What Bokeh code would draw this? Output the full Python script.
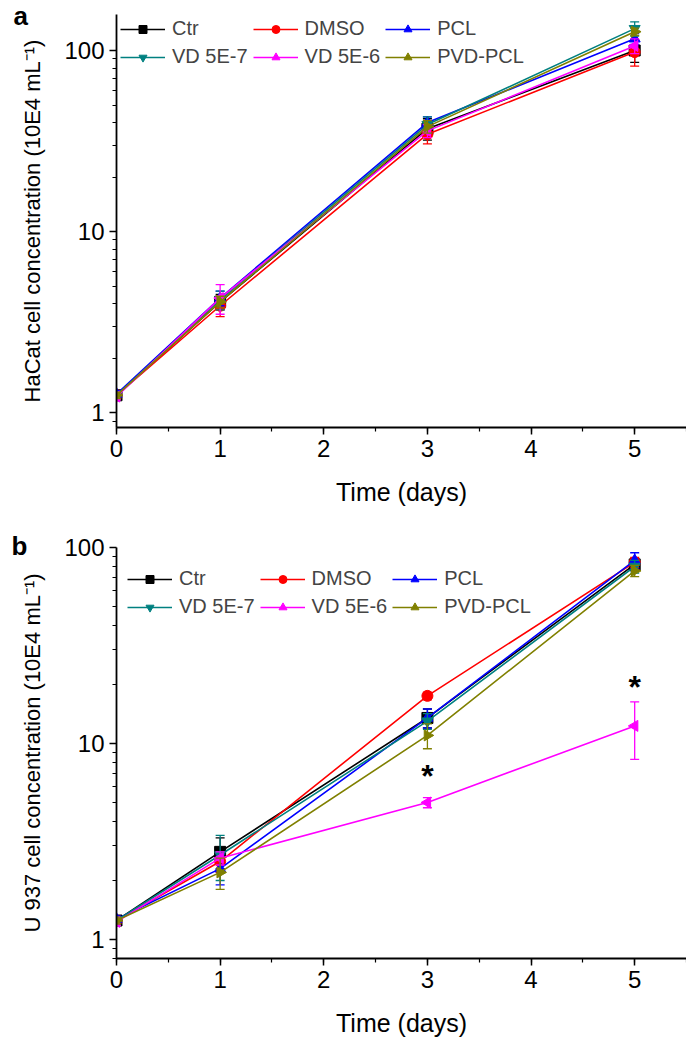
import numpy as np
from bokeh.plotting import figure
from bokeh.layouts import column
from bokeh.models import (Legend, LegendItem, Title, FixedTicker, SingleIntervalTicker,
                          PrintfTickFormatter, Range1d, ColumnDataSource)
from bokeh.core.properties import value
from bokeh.embed import file_html
from bokeh.resources import INLINE

FONT = "Liberation Sans"

days = [0, 1, 3, 5]
series = ["Ctr", "DMSO", "PCL", "VD 5E-7", "VD 5E-6", "PVD-PCL"]
colors = ["#000000", "#ff0000", "#0000ff", "#008080", "#ff00ff", "#808000"]
markers = ["square", "circle", "triangle", "inverted_triangle", "triangle", "triangle"]
angles = [0, 0, 0, 0, np.pi / 2, -np.pi / 2]

# Panel a: HaCat
hacat_vals = [
    [1.25, 4.1, 37.0, 100.0],   # Ctr
    [1.25, 3.9, 34.5, 98.0],    # DMSO
    [1.27, 4.3, 40.0, 116.0],   # PCL
    [1.25, 4.2, 39.0, 132.0],   # VD 5E-7
    [1.23, 4.3, 36.0, 106.0],   # VD 5E-6
    [1.25, 4.1, 38.0, 127.0],   # PVD-PCL
]
hacat_err = [
    [0.05, 0.4, 5.0, 14.0],
    [0.05, 0.5, 4.0, 16.0],
    [0.05, 0.4, 3.0, 8.0],
    [0.05, 0.5, 4.0, 12.0],
    [0.05, 0.8, 3.0, 10.0],
    [0.05, 0.3, 3.0, 6.0],
]

# Panel b: U 937
u937_vals = [
    [1.25, 2.8, 13.5, 82.0],
    [1.25, 2.5, 17.5, 84.0],
    [1.27, 2.3, 13.5, 86.0],
    [1.25, 2.7, 13.0, 80.0],
    [1.23, 2.6, 5.0, 12.3],
    [1.25, 2.2, 11.0, 76.0],
]
u937_err = [
    [0.05, 0.5, 1.5, 6.0],
    [0.05, 0.3, 0.8, 5.0],
    [0.05, 0.4, 1.5, 8.0],
    [0.05, 0.7, 1.2, 6.0],
    [0.05, 0.2, 0.3, 4.0],
    [0.05, 0.4, 1.6, 5.0],
]

star_x = [3, 5]
star_y = [6.8, 19.5]


def make_panel(vals, errs, ylabel, ymin, ymax, border_top, frame_h,
               border_bottom, legend_loc, tag, tag_offset, tag_standoff, stars=False):
    p = figure(output_backend="svg", toolbar_location=None, y_axis_type="log",
               frame_width=570, frame_height=frame_h,
               min_border_left=116, min_border_right=0,
               min_border_top=border_top, min_border_bottom=border_bottom,
               x_range=Range1d(0, 5.5), y_range=Range1d(ymin, ymax))
    p.outline_line_color = None
    p.grid.visible = False
    p.background_fill_color = "white"

    items = []
    for i, name in enumerate(series):
        src = ColumnDataSource(dict(
            x=days, y=vals[i],
            lo=[v - e for v, e in zip(vals[i], errs[i])],
            hi=[v + e for v, e in zip(vals[i], errs[i])]))
        c = colors[i]
        p.segment(x0="x", y0="lo", x1="x", y1="hi", source=src, line_color=c, line_width=1.3)
        p.scatter(x="x", y="lo", source=src, marker="dash", size=9, line_color=c, line_width=1.3)
        p.scatter(x="x", y="hi", source=src, marker="dash", size=9, line_color=c, line_width=1.3)
        lr = p.line(x="x", y="y", source=src, line_color=c, line_width=1.6)
        sr = p.scatter(x="x", y="y", source=src, marker=markers[i], angle=angles[i],
                       size=11, fill_color=c, line_color=c)
        items.append(LegendItem(label=name, renderers=[lr, sr]))

    leg = Legend(items=items, location=legend_loc, orientation="horizontal", ncols=3,
                 glyph_width=45, glyph_height=20, label_height=20, spacing=5,
                 label_standoff=7, padding=2, margin=0,
                 label_text_font=FONT, label_text_font_size="20px",
                 border_line_alpha=0, background_fill_alpha=0)
    p.add_layout(leg)

    p.xaxis.ticker = SingleIntervalTicker(interval=1, num_minor_ticks=2)
    minor = [m * 10.0 ** e for e in (-1, 0, 1, 2) for m in range(2, 10)]
    p.yaxis.ticker = FixedTicker(ticks=[1, 10, 100], minor_ticks=minor)
    p.yaxis.formatter = PrintfTickFormatter(format="%d")
    for ax in (p.xaxis, p.yaxis):
        ax.axis_line_width = 1.8
        ax.axis_line_color = "black"
        ax.major_tick_line_width = 1.5
        ax.minor_tick_line_width = 1.2
        ax.major_tick_in = 0
        ax.major_tick_out = 7
        ax.minor_tick_in = 0
        ax.minor_tick_out = 4
        ax.major_label_text_font = FONT
        ax.major_label_text_font_size = "24px"
        ax.major_label_text_color = "black"
        ax.axis_label_text_font = FONT
        ax.axis_label_text_font_style = "normal"
        ax.axis_label_text_color = "black"
    p.xaxis.major_label_standoff = 5
    p.yaxis.major_label_standoff = 5
    p.xaxis.axis_label = "Time (days)"
    p.xaxis.axis_label_text_font_size = "25px"
    p.xaxis.axis_label_standoff = 18
    p.yaxis.axis_label = ylabel
    p.yaxis.axis_label_text_font_size = "22px"
    p.yaxis.axis_label_standoff = 16

    if stars:
        p.text(x=star_x, y=star_y, text=["*", "*"], text_font=value(FONT),
               text_font_size="32px", text_font_style="bold", text_color="black",
               text_align="center", text_baseline="middle")

    p.add_layout(Title(text=tag, align="left", offset=tag_offset, standoff=tag_standoff,
                       text_font=FONT, text_font_size="26px", text_font_style="bold",
                       text_color="black"), "above")
    return p


pa = make_panel(hacat_vals, hacat_err, "HaCat cell concentration (10E4 mL\u207b\u00b9)",
                0.83, 158, 14, 413, 90, (2, 357), "a", -103, -33)
pb = make_panel(u937_vals, u937_err, "U 937 cell concentration (10E4 mL\u207b\u00b9)",
                0.8, 100, 30, 411, 82, (9, 338), "b", -105, -27, stars=True)

layout = column(pa, pb, spacing=0)
open("out.html", "w").write(file_html(layout, INLINE))
